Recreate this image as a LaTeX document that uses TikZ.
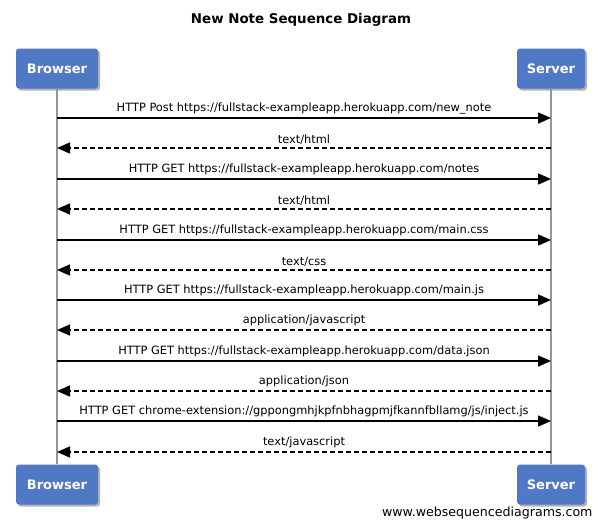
\documentclass[tikz,border=0pt]{standalone}
\usepackage{fontspec}
\setmainfont{DejaVu Sans}
\newfontfamily\lblfont{DejaVu Sans}
\usetikzlibrary{shadows,arrows.meta}
\definecolor{boxblue}{RGB}{79,121,196}
\definecolor{lifegray}{RGB}{150,150,150}
\tikzset{
  actor/.style={draw=none, fill=boxblue, rounded corners=3pt, text=white,
    font=\fontsize{13}{15}\selectfont\bfseries, inner sep=0pt,
    drop shadow={shadow xshift=2pt, shadow yshift=-2pt, opacity=0.5, fill=black!60},
    minimum height=40pt},
  lifeline/.style={draw=lifegray, line width=1.5pt},
  req/.style={draw=black, line width=1.5pt, -{Triangle[length=13pt,width=11pt]}},
  resp/.style={draw=black, line width=1.5pt, dash pattern=on 5pt off 3pt, -{Triangle[length=13pt,width=11pt]}},
  lbl/.style={font=\lblfont\fontsize{11.4}{13}\selectfont, inner sep=0pt},
}
\begin{document}
\begin{tikzpicture}[x=1pt,y=-1pt]
\useasboundingbox (0,0) rectangle (604,528);
\node[font=\fontsize{13.4}{15}\selectfont\bfseries] (title) at (301,20) {New Note Sequence Diagram};
\node[actor, minimum width=82pt] (bt) at (57,68.5) {Browser};
\node[actor, minimum width=68pt] (st) at (551,68.5) {Server};
\node[actor, minimum width=82pt] (bb) at (57,484.5) {Browser};
\node[actor, minimum width=68pt] (sb) at (551,484.5) {Server};
\draw[lifeline] (bt.south) -- (bb.north);
\draw[lifeline] (st.south) -- (sb.north);
% message coordinates
\foreach \i/\y in {1/118,2/148,3/179,4/209,5/240,6/270,7/300,8/330,9/361,10/391,11/421,12/452}{
  \coordinate (b\i) at (57,\y);
  \coordinate (s\i) at (551,\y);
}
\draw[req] (b1) -- node[lbl, above=3pt] (m1) {HTTP Post https://fullstack-exampleapp.herokuapp.com/new\_note} (s1);
\draw[resp] (s2) -- node[lbl, above=3pt] (m2) {text/html} (b2);
\draw[req] (b3) -- node[lbl, above=3pt] (m3) {HTTP GET https://fullstack-exampleapp.herokuapp.com/notes} (s3);
\draw[resp] (s4) -- node[lbl, above=3pt] (m4) {text/html} (b4);
\draw[req] (b5) -- node[lbl, above=3pt] (m5) {HTTP GET https://fullstack-exampleapp.herokuapp.com/main.css} (s5);
\draw[resp] (s6) -- node[lbl, above=3pt] (m6) {text/css} (b6);
\draw[req] (b7) -- node[lbl, above=3pt] (m7) {HTTP GET https://fullstack-exampleapp.herokuapp.com/main.js} (s7);
\draw[resp] (s8) -- node[lbl, above=3pt] (m8) {application/javascript} (b8);
\draw[req] (b9) -- node[lbl, above=3pt] (m9) {HTTP GET https://fullstack-exampleapp.herokuapp.com/data.json} (s9);
\draw[resp] (s10) -- node[lbl, above=3pt] (m10) {application/json} (b10);
\draw[req] (b11) -- node[lbl, above=3pt] (m11) {HTTP GET chrome-extension://gppongmhjkpfnbhagpmjfkannfbllamg/js/inject.js} (s11);
\draw[resp] (s12) -- node[lbl, above=3pt] (m12) {text/javascript} (b12);
\node[font=\fontsize{12.6}{14}\selectfont, anchor=east] (wm) at (596,513) {www.websequencediagrams.com};
\end{tikzpicture}
\end{document}
